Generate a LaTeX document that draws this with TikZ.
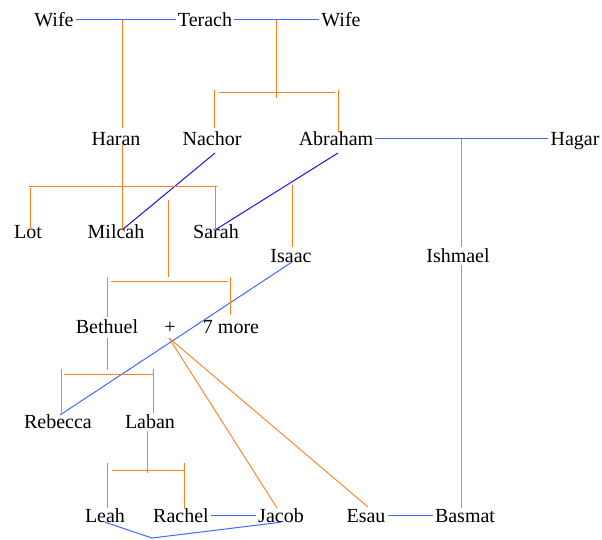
\documentclass[tikz,border=0pt]{standalone}
\usepackage{fontspec}
\setmainfont{Liberation Serif}
\usetikzlibrary{calc,backgrounds}
\definecolor{wedblue}{HTML}{3D6BFF}
\definecolor{bondblue}{HTML}{1414EE}
\definecolor{kinorange}{HTML}{FF7F1E}
\begin{document}
\begin{tikzpicture}[x=1pt,y=-1pt,
  person/.style={font=\fontsize{20}{24}\selectfont, inner xsep=2pt, inner ysep=0pt,
                 text height=13.2pt, text depth=0pt, anchor=base},
  wed/.style={wedblue, line width=1pt},
  bond/.style={bondblue, line width=1pt},
  kin/.style={kinorange, line width=0.9pt}]
\useasboundingbox (0,0) rectangle (602,539);

% ---- people ----
\node[person] (wifeL)   at (54,26)   {Wife};
\node[person] (terach)  at (205,26)  {Terach};
\node[person] (wifeR)   at (341,26)  {Wife};
\node[person] (haran)   at (116,145) {Haran};
\node[person] (nachor)  at (212,145) {Nachor};
\node[person] (abraham) at (336,145) {Abraham};
\node[person] (hagar)   at (575,145) {Hagar};
\node[person] (lot)     at (28,238)  {Lot};
\node[person] (milcah)  at (116,238) {Milcah};
\node[person] (sarah)   at (216,238) {Sarah};
\node[person] (isaac)   at (291,262) {Isaac};
\node[person] (ishmael) at (458,262) {Ishmael};
\node[person] (bethuel) at (107,333) {Bethuel};
\node[person] (plus)    at (170,333) {+};
\node[person] (more)    at (231,333) {7 more};
\node[person] (rebecca) at (58,428)  {Rebecca};
\node[person] (laban)   at (150,428) {Laban};
\node[person] (leah)    at (105,522) {Leah};
\node[person] (rachel)  at (181,522) {Rachel};
\node[person] (jacob)   at (281,522) {Jacob};
\node[person] (esau)    at (366,522) {Esau};
\node[person] (basmat)  at (465,522) {Basmat};

% ---- junction points ----
\coordinate (tw1) at (122,20);    % Terach + first wife
\coordinate (tw2) at (276,20);    % Terach + second wife
\coordinate (ah)  at (461,139);   % Abraham + Hagar
\coordinate (milcahTop) at (122,230);
\coordinate (sarahTop)  at (215,230);
\coordinate (nachorFoot)  at (215,153);
\coordinate (abrahamFoot) at (338,153);
\coordinate (isaacFoot)   at (292,262);
\coordinate (rebeccaTop)  at (60,415);
\coordinate (nm) at (168,200);    % Nachor + Milcah
\coordinate (as) at (292,185);    % Abraham + Sarah
\coordinate (ir) at (169,338);    % Isaac + Rebecca
\coordinate (dip) at (152,538);   % Leah + Jacob

% ---- marriages ----
\draw[wed] (wifeL.east) -- (terach.west);
\draw[wed] (terach.east) -- (wifeR.west);
\draw[wed] (abraham.east) -- (hagar.west);
\draw[wed] (rachel.east) -- (jacob.west);
\draw[wed] (esau.east) -- (basmat.west);
\draw[wed] (isaacFoot) -- (rebeccaTop);
\draw[wed] (leah.south) -- (dip) -- (jacob.south);
\draw[bond] (nachorFoot) -- (milcahTop);
\draw[bond] (abrahamFoot) -- (sarahTop);

% ---- descent ----
% Terach and first wife: Haran, whose line runs on to Milcah
\draw[kin] (tw1) -- (122,128);
\draw[kin] (122,145) -- (milcahTop);
% Terach and second wife: Nachor, Abraham
\draw[kin] (tw2) -- (276,98);
\draw[kin] (219,92) -- (335,92);
\draw[kin] (214,90) -- (214,128);
\draw[kin] (338,90) -- (338,133);
% Haran's children: Lot, Milcah, Sarah
\draw[kin] (29,186) -- (217,186);
\draw[kin] (30,188) -- (30,230);
\draw[kin] (215,186) -- (sarahTop);
% Nachor and Milcah: Bethuel and 7 more
\draw[kin] (nm) -- (168,277);
\draw[kin] (111,281) -- (228,281);
\draw[kin] (107,277) -- (107,317);
\draw[kin] (230,277) -- (230,315);
% Abraham and Sarah: Isaac
\draw[kin] (as) -- (292,247);
% Abraham and Hagar: Ishmael, Basmat
\draw[kin] (ah) -- (461,247);
\draw[kin] (461,265) -- (461,508);
% Bethuel: Rebecca, Laban
\draw[kin] (107,338) -- (107,370);
\draw[kin] (64,374) -- (153,374);
\draw[kin] (61,369) -- (61,415);
\draw[kin] (153,369) -- (153,413);
% Isaac and Rebecca: Jacob, Esau
\draw[kin] (ir) -- (277,508);
\draw[kin] (ir) -- (368,507);
% Laban: Leah, Rachel
\draw[kin] (147,431) -- (147,473);
\draw[kin] (112,470) -- (184,470);
\draw[kin] (107,463) -- (107,508);
\draw[kin] (184,463) -- (184,508);
\end{tikzpicture}
\end{document}
